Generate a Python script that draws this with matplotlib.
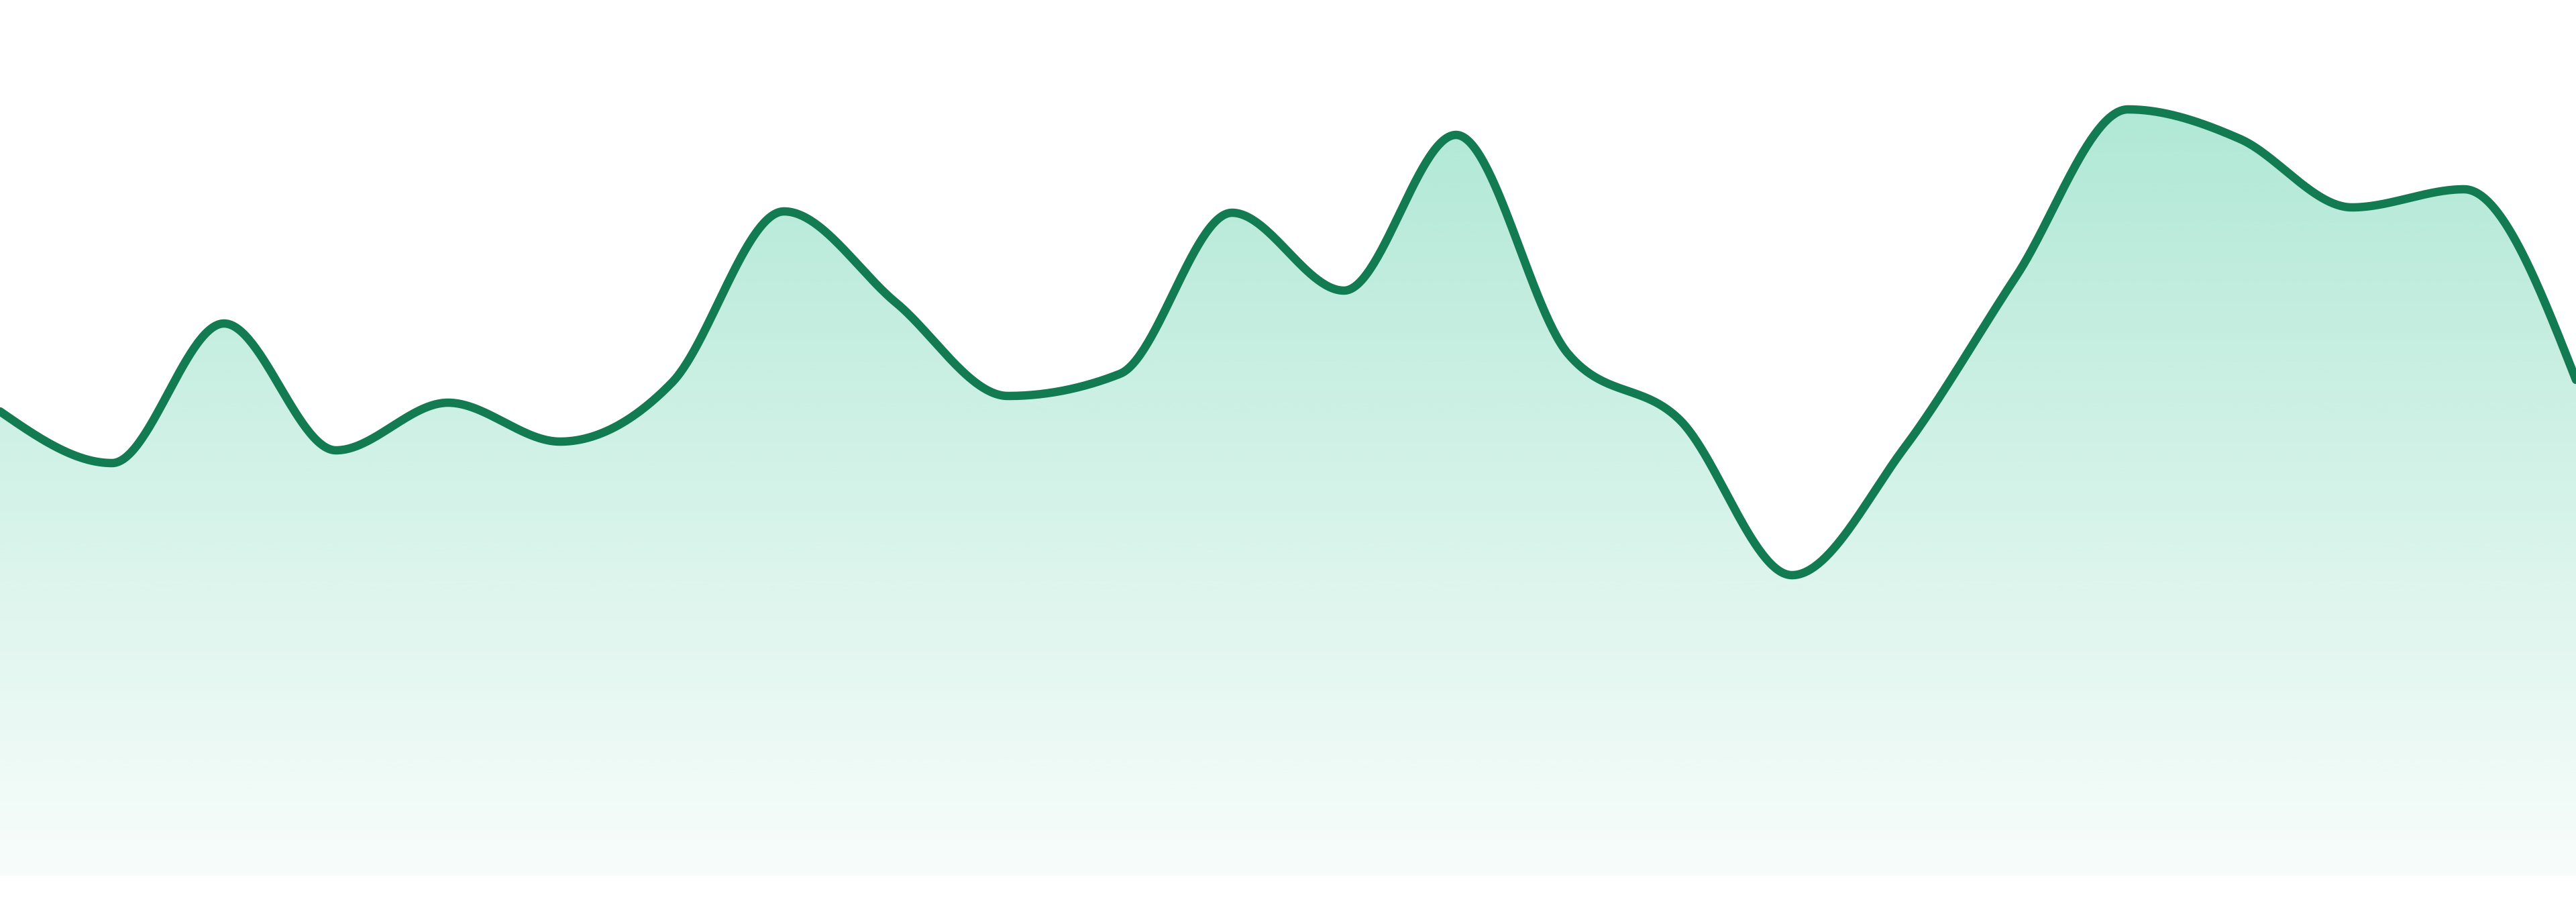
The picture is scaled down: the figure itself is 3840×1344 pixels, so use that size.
import numpy as np
import matplotlib
matplotlib.use("Agg")
import matplotlib.pyplot as plt
from matplotlib.path import Path
from matplotlib.patches import PathPatch

# values (baseline = 0)
days = list(range(24))
values = [69.2, 61.5, 82.3, 63.4, 70.5, 64.7, 73.5, 99.0, 85.4, 71.5, 74.8, 98.8,
          87.2, 110.4, 77.8, 67.9, 44.8, 63.7, 89.3, 114.2, 109.8, 99.6, 102.3, 73.9]

line_color = "#127b51"
fill_rgb = (16 / 255, 185 / 255, 129 / 255)


def monotone_tangents(x, y):
    # same rule as d3.curveMonotoneX
    n = len(x)
    t = np.zeros(n)
    for i in range(1, n - 1):
        h0 = x[i] - x[i - 1]
        h1 = x[i + 1] - x[i]
        s0 = (y[i] - y[i - 1]) / h0
        s1 = (y[i + 1] - y[i]) / h1
        p = (s0 * h1 + s1 * h0) / (h0 + h1)
        t[i] = (np.sign(s0) + np.sign(s1)) * min(abs(s0), abs(s1), 0.5 * abs(p))
    h = x[1] - x[0]
    t[0] = (3 * (y[1] - y[0]) / h - t[1]) / 2
    h = x[-1] - x[-2]
    t[-1] = (3 * (y[-1] - y[-2]) / h - t[-2]) / 2
    return t


def monotone_curve(x, y, steps=60):
    x = np.asarray(x, float)
    y = np.asarray(y, float)
    t = monotone_tangents(x, y)
    xs, ys = [], []
    for i in range(len(x) - 1):
        h = x[i + 1] - x[i]
        u = np.linspace(0, 1, steps, endpoint=False)
        h00 = 2 * u**3 - 3 * u**2 + 1
        h10 = u**3 - 2 * u**2 + u
        h01 = -2 * u**3 + 3 * u**2
        h11 = u**3 - u**2
        xs.append(x[i] + u * h)
        ys.append(h00 * y[i] + h10 * h * t[i] + h01 * y[i + 1] + h11 * h * t[i + 1])
    xs.append([x[-1]])
    ys.append([y[-1]])
    return np.concatenate(xs), np.concatenate(ys)


cx, cy = monotone_curve(days, values)

fig = plt.figure(figsize=(19.2, 6.72), dpi=200)
ax = fig.add_axes([0, 0, 1, 1])
ax.set_xlim(0, 23)
ax.set_ylim(-3.9, 130.5)
ax.axis("off")

# gradient fill under the curve
top = max(values)
grad = np.zeros((256, 2, 4))
alpha = np.linspace(0.03, 0.33, 256)
grad[..., 0] = fill_rgb[0]
grad[..., 1] = fill_rgb[1]
grad[..., 2] = fill_rgb[2]
grad[..., 3] = alpha[:, None]
img = ax.imshow(grad, extent=[0, 23, 0, top], origin="lower", aspect="auto",
                interpolation="bilinear", zorder=1)
verts = np.column_stack([np.r_[cx, cx[-1], cx[0]], np.r_[cy, 0, 0]])
clip = PathPatch(Path(verts, closed=False), facecolor="none", edgecolor="none")
ax.add_patch(clip)
img.set_clip_path(clip)

ax.plot(cx, cy, color=line_color, lw=4.5, solid_capstyle="round",
        solid_joinstyle="round", zorder=2)

fig.savefig("out.png", dpi=200, facecolor="white")
